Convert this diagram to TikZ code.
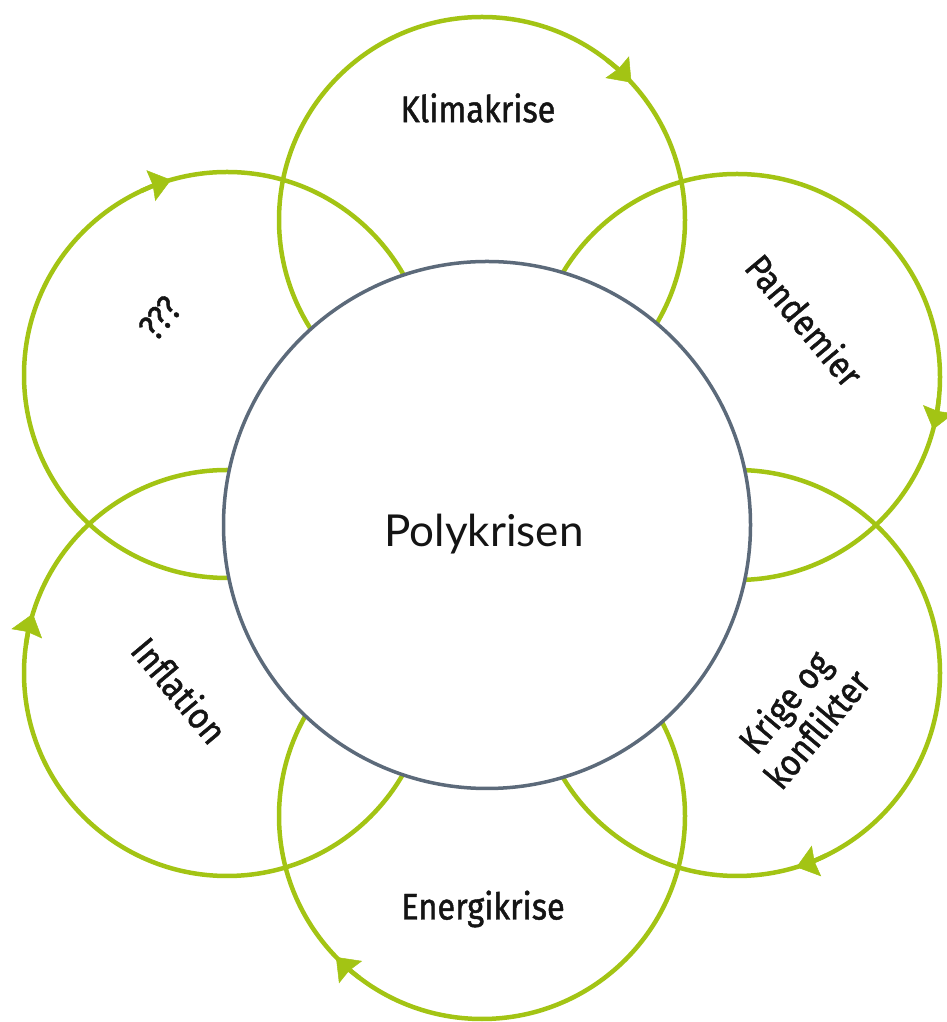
\documentclass[tikz,border=0pt]{standalone}
\usepackage{fontspec}
\setmainfont{Fira Sans}
\newfontfamily\labfont{Fira Sans}[FakeStretch=0.88,FakeBold=1.2]
\newfontfamily\hubfont{Lato}
\usetikzlibrary{arrows.meta,calc}
\definecolor{leaf}{RGB}{163,196,20}
\definecolor{slate}{RGB}{92,106,122}
\begin{document}
\begin{tikzpicture}[x=1pt,y=1pt,
  petal/.style={circle, draw=leaf, line width=4.5pt, minimum size=406pt, inner sep=0pt},
  hub/.style={circle, draw=slate, fill=white, line width=3.5pt, minimum size=527pt, inner sep=0pt},
  lab/.style={font=\labfont\fontsize{37}{42}\selectfont, align=center, inner sep=0pt, text=black!92},
  tip/.style={draw=leaf, line width=4.5pt, -{Stealth[length=21pt,width=32pt,inset=2pt,line width=0.5pt]}}
]
\useasboundingbox (0,0) rectangle (946,1022);

% six overlapping crisis circles
\node[petal] (klima) at (482,802) {};
\node[petal] (pand)  at (737,645) {};
\node[petal] (krig)  at (737,349) {};
\node[petal] (energ) at (482,206) {};
\node[petal] (infl)  at (227,349) {};
\node[petal] (ukj)   at (227,647) {};

% clockwise direction marks on each circle
\draw[tip] ($(klima.center)+(52:203pt)$) arc[start angle=52, end angle=42.6, radius=203pt];
\draw[tip] ($(pand.center)+(-6:203pt)$)  arc[start angle=-6,  end angle=-15,  radius=203pt];
\draw[tip] ($(krig.center)+(-64:203pt)$) arc[start angle=-64, end angle=-73,  radius=203pt];
\draw[tip] ($(energ.center)+(-127:203pt)$) arc[start angle=-127, end angle=-136, radius=203pt];
\draw[tip] ($(infl.center)+(172:203pt)$) arc[start angle=172, end angle=163,  radius=203pt];
\draw[tip] ($(ukj.center)+(115:203pt)$)  arc[start angle=115, end angle=106,  radius=203pt];

% central circle on top
\node[hub] (poly) at (487,497) {};
\node[font=\hubfont\fontsize{44}{46}\selectfont, text=black!92] (polyt) at (484,488) {Polykrisen};

% labels
\node[lab] (klimat) at (478,914) {Klimakrise};
\node[lab, rotate=-50] (pandt) at (805,702) {Pandemier};
\node[lab, rotate=50] (krigt) at (800,307) {Krige og\\konflikter};
\node[lab] (energt) at (483,113) {Energikrise};
\node[lab, rotate=-50] (inflt) at (180,332) {Inflation};
\node[lab, rotate=50] (ukjt) at (160,704) {???};
\end{tikzpicture}
\end{document}
